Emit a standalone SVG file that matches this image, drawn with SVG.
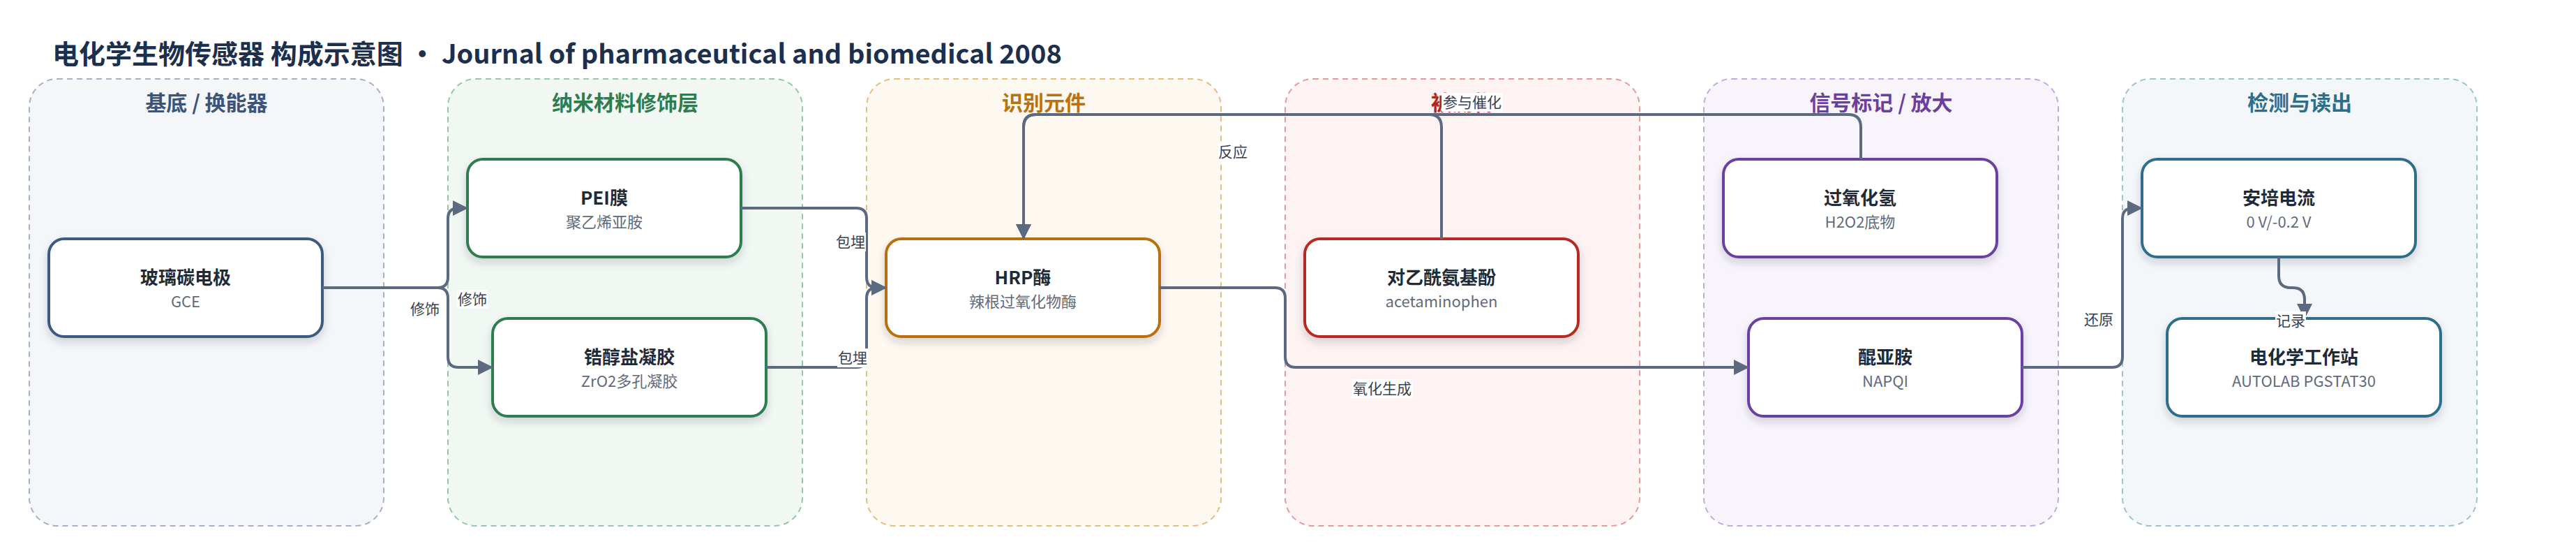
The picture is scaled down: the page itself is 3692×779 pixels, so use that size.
<svg xmlns="http://www.w3.org/2000/svg" width="3692" height="779" viewBox="0 0 3692 779">
<defs>
<style>
text{font-family:"Noto Sans CJK SC","Noto Sans",sans-serif;}
.title{font-size:38px;font-weight:700;fill:#1c2f4d;}
.glabel{font-size:30px;font-weight:700;text-anchor:middle;}
.grp{stroke-width:2;stroke-dasharray:8 6;}
.node{fill:#ffffff;stroke-width:4;filter:url(#sh);}
.nt{font-size:26px;font-weight:700;fill:#1f2a37;text-anchor:middle;}
.ns{font-size:22px;fill:#5f6b7a;text-anchor:middle;}
.edge{fill:none;stroke:#5b6a80;stroke-width:4;}
.arr{marker-end:url(#ah);}
.lb{fill:#ffffff;}
.lt{font-size:21px;fill:#374151;text-anchor:middle;}
</style>
<filter id="sh" x="-10%" y="-15%" width="120%" height="140%">
<feDropShadow dx="0" dy="6" stdDeviation="6" flood-color="#1f2937" flood-opacity="0.18"/>
</filter>
<marker id="ah" markerUnits="userSpaceOnUse" markerWidth="22" markerHeight="22" viewBox="0 0 22 22" refX="21" refY="11" orient="auto">
<path d="M0,0 L22,11 L0,22 Z" fill="#5b6a80"/>
</marker>
</defs>
<rect width="3692" height="779" fill="#ffffff"/>
<text class="title" x="75" y="91">电化学生物传感器 构成示意图 • Journal of pharmaceutical and biomedical 2008</text>

<g id="groups">
<g id="g-substrate">
<rect class="grp" x="42" y="113" width="508" height="640" rx="40" fill="#f4f6fa" stroke="#a3b2c7"/>
<text class="glabel" x="296" y="158" fill="#3b5478">基底 / 换能器</text>
</g>
<g id="g-nano">
<rect class="grp" x="642" y="113" width="508" height="640" rx="40" fill="#f1f8f3" stroke="#97c6a6"/>
<text class="glabel" x="896" y="158" fill="#2e7d4f">纳米材料修饰层</text>
</g>
<g id="g-recog">
<rect class="grp" x="1242" y="113" width="508" height="640" rx="40" fill="#fdf8f0" stroke="#e4bd83"/>
<text class="glabel" x="1496" y="158" fill="#b8720f">识别元件</text>
</g>
<g id="g-analyte">
<rect class="grp" x="1842" y="113" width="508" height="640" rx="40" fill="#fdf3f2" stroke="#e49c99"/>
<text class="glabel" x="2096" y="158" fill="#b3261e">被测物</text>
</g>
<g id="g-signal">
<rect class="grp" x="2442" y="113" width="508" height="640" rx="40" fill="#f7f4fb" stroke="#c3a9de"/>
<text class="glabel" x="2696" y="158" fill="#6b3fa0">信号标记 / 放大</text>
</g>
<g id="g-detect">
<rect class="grp" x="3042" y="113" width="508" height="640" rx="40" fill="#f3f7f9" stroke="#9fc2ce"/>
<text class="glabel" x="3296" y="158" fill="#2f6e88">检测与读出</text>
</g>
</g>

<g id="nodes">
<g id="n-gce">
<rect class="node" x="70" y="342" width="392" height="140" rx="22" stroke="#3d5a80"/>
<text class="nt" x="266" y="407">玻璃碳电极</text>
<text class="ns" x="266" y="440">GCE</text>
</g>
<g id="n-pei">
<rect class="node" x="670" y="228" width="392" height="140" rx="22" stroke="#2e7d4f"/>
<text class="nt" x="866" y="293">PEI膜</text>
<text class="ns" x="866" y="326">聚乙烯亚胺</text>
</g>
<g id="n-zr">
<rect class="node" x="706" y="456" width="392" height="140" rx="22" stroke="#2e7d4f"/>
<text class="nt" x="902" y="521">锆醇盐凝胶</text>
<text class="ns" x="902" y="554">ZrO2多孔凝胶</text>
</g>
<g id="n-hrp">
<rect class="node" x="1270" y="342" width="392" height="140" rx="22" stroke="#b8700a"/>
<text class="nt" x="1466" y="407">HRP酶</text>
<text class="ns" x="1466" y="440">辣根过氧化物酶</text>
</g>
<g id="n-apap">
<rect class="node" x="1870" y="342" width="392" height="140" rx="22" stroke="#b72a24"/>
<text class="nt" x="2066" y="407">对乙酰氨基酚</text>
<text class="ns" x="2066" y="440">acetaminophen</text>
</g>
<g id="n-h2o2">
<rect class="node" x="2470" y="228" width="392" height="140" rx="22" stroke="#6b3fa0"/>
<text class="nt" x="2666" y="293">过氧化氢</text>
<text class="ns" x="2666" y="326">H2O2底物</text>
</g>
<g id="n-napqi">
<rect class="node" x="2506" y="456" width="392" height="140" rx="22" stroke="#6b3fa0"/>
<text class="nt" x="2702" y="521">醌亚胺</text>
<text class="ns" x="2702" y="554">NAPQI</text>
</g>
<g id="n-amp">
<rect class="node" x="3070" y="228" width="392" height="140" rx="22" stroke="#2f6e8c"/>
<text class="nt" x="3266" y="293">安培电流</text>
<text class="ns" x="3266" y="326">0 V/-0.2 V</text>
</g>
<g id="n-station">
<rect class="node" x="3106" y="456" width="392" height="140" rx="22" stroke="#2f6e8c"/>
<text class="nt" x="3302" y="521">电化学工作站</text>
<text class="ns" x="3302" y="554">AUTOLAB PGSTAT30</text>
</g>
</g>

<g id="connectors">
<path class="edge arr" d="M462,412 H627 Q642,412 642,397 V313 Q642,298 657,298 H670"/>
<path class="edge arr" d="M462,412 H627 Q642,412 642,427 V511 Q642,526 657,526 H706"/>
<path class="edge arr" d="M1062,298 H1227 Q1242,298 1242,313 V397 Q1242,412 1257,412 H1270"/>
<path class="edge arr" d="M1098,526 H1227 Q1242,526 1242,511 V427 Q1242,412 1257,412 H1270"/>
<path class="edge arr" d="M1662,412 H1827 Q1842,412 1842,427 V511 Q1842,526 1857,526 H2506"/>
<path class="edge arr" d="M2066,342 V182 Q2066,164 2048,164 H1485 Q1467,164 1467,182 V342"/>
<path class="edge arr" d="M2667,228 V182 Q2667,164 2649,164 H1485 Q1467,164 1467,182 V342"/>
<path class="edge arr" d="M2898,526 H3027 Q3042,526 3042,511 V313 Q3042,298 3057,298 H3070"/>
<path class="edge arr" d="M3266,368 V395 Q3266,412 3283,412 H3286 Q3303,412 3303,429 V456"/>
</g>

<g id="edge-labels">
<g><rect class="lb" x="587" y="429" width="44" height="27"/><text class="lt" x="609" y="450">修饰</text></g>
<g><rect class="lb" x="655" y="415" width="44" height="27"/><text class="lt" x="677" y="436">修饰</text></g>
<g><rect class="lb" x="1197" y="333" width="44" height="27"/><text class="lt" x="1219" y="354">包埋</text></g>
<g><rect class="lb" x="1200" y="499" width="44" height="27"/><text class="lt" x="1222" y="520">包埋</text></g>
<g><rect class="lb" x="1745" y="204" width="44" height="27"/><text class="lt" x="1767" y="225">反应</text></g>
<g><rect class="lb" x="2066" y="133" width="88" height="27"/><text class="lt" x="2110" y="154">参与催化</text></g>
<g><rect class="lb" x="1937" y="543" width="88" height="27"/><text class="lt" x="1981" y="564">氧化生成</text></g>
<g><rect class="lb" x="2986" y="444" width="44" height="27"/><text class="lt" x="3008" y="465">还原</text></g>
<g><rect class="lb" x="3261" y="446" width="44" height="27"/><text class="lt" x="3283" y="467">记录</text></g>
</g>
</svg>
